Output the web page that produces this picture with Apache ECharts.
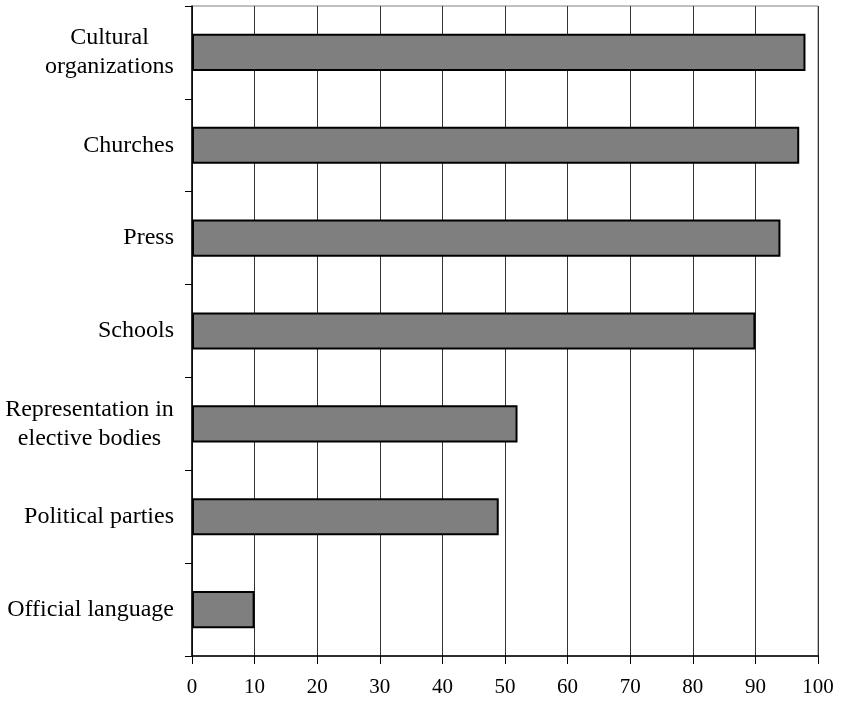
<!DOCTYPE html>
<html>
<head>
<meta charset="utf-8">
<script src="https://cdn.jsdelivr.net/npm/echarts@6/dist/echarts.min.js"></script>
<style>
html,body{margin:0;padding:0;background:#fff;}
#chart{width:841px;height:701px;}
</style>
</head>
<body>
<div id="chart"></div>
<script>
const categories = [
  "Cultural\norganizations",
  "Churches",
  "Press",
  "Schools",
  "Representation in\nelective bodies",
  "Political parties",
  "Official language"
];
const values = [98, 97, 94, 90, 52, 49, 10];
const xMin = 0, xMax = 100, xInterval = 10;

const FONT = '"Liberation Serif", "Times New Roman", serif';
const Y_FONT_SIZE = 24;

// Build rich styles so multi-line labels are centred within their own block
const measureCtx = document.createElement('canvas').getContext('2d');
measureCtx.font = Y_FONT_SIZE + 'px ' + FONT;
const rich = {};
const labelKey = {};
categories.forEach((c, i) => {
  const lines = c.split('\n');
  if (lines.length > 1) {
    const w = Math.ceil(Math.max(...lines.map(l => measureCtx.measureText(l).width)));
    const key = 'm' + i;
    rich[key] = { width: w, align: 'center', fontSize: Y_FONT_SIZE, fontFamily: FONT, color: '#000', lineHeight: 29 };
    labelKey[c] = key;
  }
});

const chart = echarts.init(document.getElementById('chart'), null, { renderer: 'canvas' });
chart.setOption({
  animation: false,
  backgroundColor: '#fff',
  grid: {
    left: 192, right: 23, top: 6, bottom: 45,
    show: true, borderColor: '#808080', borderWidth: 1, backgroundColor: 'transparent'
  },
  xAxis: {
    type: 'value',
    min: xMin, max: xMax, interval: xInterval,
    axisLine: { show: true, lineStyle: { color: '#000', width: 1.5 } },
    axisTick: { show: true, length: 8, lineStyle: { color: '#000', width: 1 } },
    axisLabel: { fontFamily: FONT, fontSize: 21, color: '#000', margin: 21 },
    splitLine: { show: true, lineStyle: { color: '#333', width: 1 } }
  },
  yAxis: {
    type: 'category',
    data: categories,
    inverse: true,
    axisLine: { show: true, lineStyle: { color: '#000', width: 1.5 } },
    axisTick: { show: true, length: 7, alignWithLabel: false, lineStyle: { color: '#000', width: 1 } },
    axisLabel: {
      fontFamily: FONT, fontSize: Y_FONT_SIZE, color: '#000', margin: 18, lineHeight: 29,
      align: 'right',
      formatter: function (v) {
        const k = labelKey[v];
        if (!k) return v;
        return v.split('\n').map(l => '{' + k + '|' + l + '}').join('\n');
      },
      rich: rich
    },
    splitLine: { show: false }
  },
  series: [{
    type: 'bar',
    data: values,
    barCategoryGap: '60%',
    itemStyle: { color: '#7f7f7f', borderColor: '#000', borderWidth: 2 }
  }]
});
</script>
</body>
</html>
